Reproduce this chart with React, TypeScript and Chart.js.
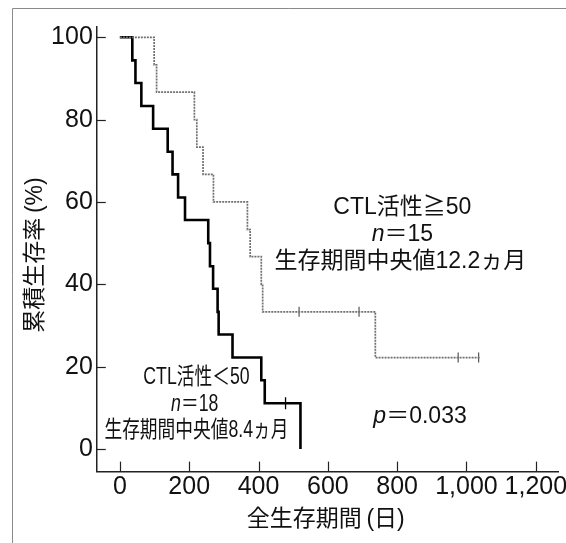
import React, { useEffect, useRef } from "react";
import { Chart, registerables } from "chart.js";

Chart.register(...registerables);

// ---- data ----
const highDays = [0, 99, 106, 215, 222, 240, 270, 368, 376, 408, 412, 737, 1040];
const highSurv = [100, 93.3, 86.7, 80, 73.3, 66.7, 60, 53.3, 46.7, 40, 33.3, 22.2, 22.2];
const highCensorDays = [517, 690, 976, 1035];
const highCensorSurv = [33.3, 33.3, 22.2, 22.2];

const lowDays = [0, 36, 45, 62, 96, 138, 152, 168, 188, 255, 260, 269, 282, 285, 325, 408, 418, 521];
const lowSurv = [100, 94.4, 88.9, 83.3, 77.8, 72.2, 66.7, 61.1, 55.6, 50, 44.4, 38.9, 33.3, 27.8, 22.2, 16.7, 11.1, 0];
const lowCensorDays = [478];
const lowCensorSurv = [11.1];

const xTicks = [0, 200, 400, 600, 800, 1000, 1200];
const xTickLabels = ["0", "200", "400", "600", "800", "1,000", "1,200"];
const yTicks = [0, 20, 40, 60, 80, 100];
const yTickLabels = ["0", "20", "40", "60", "80", "100"];

const xTitle = "全生存期間\u2009(日)";
const yTitle = "累積生存率\u2009(%)";

const FONT = '"Liberation Sans", Arial, "Noto Sans CJK JP", sans-serif';

type Part = { t: string; italic?: boolean };
type Note = { x: number; y: number; parts: Part[]; sx?: number };

const notes: Note[] = [
  { x: 815, y: 58.6, parts: [{ t: "CTL活性≧50" }] },
  { x: 815, y: 52.1, parts: [{ t: "n", italic: true }, { t: "＝15" }] },
  { x: 809, y: 45.4, parts: [{ t: "生存期間中央値12.2ヵ月" }] },
  { x: 221, y: 17.3, parts: [{ t: "CTL活性＜50" }], sx: 0.77 },
  { x: 216, y: 10.8, parts: [{ t: "n", italic: true }, { t: "＝18" }], sx: 0.77 },
  { x: 221, y: 4.4, parts: [{ t: "生存期間中央値8.4ヵ月" }], sx: 0.77 },
  { x: 866, y: 7.9, parts: [{ t: "p", italic: true }, { t: "＝0.033" }] },
];

const toPts = (xs: number[], ys: number[]) => xs.map((x, i) => ({ x, y: ys[i] }));

const decorPlugin = {
  id: "decor",
  beforeDraw(chart: any) {
    const ctx = chart.ctx;
    ctx.save();
    ctx.fillStyle = "#ffffff";
    ctx.fillRect(0, 0, chart.width, chart.height);
    ctx.strokeStyle = "#8a8a8a";
    ctx.lineWidth = 1;
    ctx.beginPath();
    ctx.moveTo(12.5, chart.height);
    ctx.lineTo(12.5, 8.5);
    ctx.lineTo(chart.width, 8.5);
    ctx.stroke();
    ctx.restore();
  },
  afterDraw(chart: any) {
    const ctx = chart.ctx;
    const xs = chart.scales.x;
    const ys = chart.scales.y;
    const area = chart.chartArea;
    ctx.save();
    ctx.strokeStyle = "#222";
    ctx.lineWidth = 1.2;
    xTicks.forEach((v) => {
      const px = Math.round(xs.getPixelForValue(v)) + 0.5;
      ctx.beginPath();
      ctx.moveTo(px, area.bottom);
      ctx.lineTo(px, area.bottom - 10);
      ctx.stroke();
    });
    yTicks.forEach((v) => {
      const py = Math.round(ys.getPixelForValue(v)) + 0.5;
      ctx.beginPath();
      ctx.moveTo(area.left, py);
      ctx.lineTo(area.left + 9, py);
      ctx.stroke();
    });

    ctx.fillStyle = "#111";
    ctx.textBaseline = "middle";
    ctx.textAlign = "left";
    notes.forEach((n) => {
      const cx = xs.getPixelForValue(n.x);
      const cy = ys.getPixelForValue(n.y);
      const sx = n.sx ?? 1;
      let total = 0;
      const widths = n.parts.map((p) => {
        ctx.font = `${p.italic ? "italic " : ""}23px ${FONT}`;
        const w = ctx.measureText(p.t).width;
        total += w;
        return w;
      });
      ctx.save();
      ctx.translate(cx, cy);
      ctx.scale(sx, 1);
      let x0 = -total / 2;
      n.parts.forEach((p, i) => {
        ctx.font = `${p.italic ? "italic " : ""}23px ${FONT}`;
        ctx.fillText(p.t, x0, 0);
        x0 += widths[i];
      });
      ctx.restore();
    });

    // axis titles
    ctx.font = `23px ${FONT}`;
    ctx.textAlign = "center";
    ctx.fillText(xTitle, (area.left + area.right) / 2 - 2, 520);
    ctx.save();
    ctx.translate(36, 255);
    ctx.rotate(-Math.PI / 2);
    ctx.fillText(yTitle, 0, 0);
    ctx.restore();
    ctx.restore();
  },
};

export default function App() {
  const ref = useRef<HTMLCanvasElement | null>(null);

  useEffect(() => {
    if (!ref.current) return;
    const chart = new Chart(ref.current, {
      type: "line",
      data: {
        datasets: [
          {
            label: "CTL活性≧50",
            data: toPts(highDays, highSurv),
            stepped: true,
            borderColor: "#707070",
            borderWidth: 1.7,
            borderDash: [2, 1],
            pointRadius: 0,
            fill: false,
          },
          {
            label: "CTL活性＜50",
            data: toPts(lowDays, lowSurv),
            stepped: true,
            borderColor: "#000000",
            borderWidth: 2.6,
            pointRadius: 0,
            fill: false,
          },
          {
            label: "censor high",
            data: toPts(highCensorDays, highCensorSurv),
            showLine: false,
            pointStyle: "line",
            rotation: 90,
            pointRadius: 5,
            pointBorderColor: "#555",
            pointBorderWidth: 1.2,
            borderColor: "#555",
          },
          {
            label: "censor low",
            data: toPts(lowCensorDays, lowCensorSurv),
            showLine: false,
            pointStyle: "line",
            rotation: 90,
            pointRadius: 6,
            pointBorderColor: "#000",
            pointBorderWidth: 1.3,
            borderColor: "#000",
          },
        ],
      },
      options: {
        responsive: false,
        animation: false,
        devicePixelRatio: 1,
        layout: { padding: { left: 0, right: 6.4, top: 27, bottom: 0 } },
        plugins: {
          legend: { display: false },
          tooltip: { enabled: false },
          title: { display: false },
        },
        scales: {
          x: {
            type: "linear",
            min: -66.5,
            max: 1266,
            grid: { display: false, drawTicks: false },
            border: { display: true, color: "#222", width: 1.5 },
            afterBuildTicks: (s: any) => {
              s.ticks = xTicks.map((v) => ({ value: v }));
            },
            afterFit: (s: any) => {
              s.height = 71.4;
              s.paddingLeft = 0;
              s.paddingRight = 0;
            },
            ticks: {
              autoSkip: false,
              maxRotation: 0,
              padding: 1,
              color: "#111",
              font: { family: FONT, size: 25 },
              callback: (v: any) => {
                const i = xTicks.indexOf(Number(v));
                return i >= 0 ? xTickLabels[i] : "";
              },
            },
          },
          y: {
            type: "linear",
            min: -5.5,
            max: 102.5,
            grid: { display: false, drawTicks: false },
            border: { display: true, color: "#222", width: 1.5 },
            afterBuildTicks: (s: any) => {
              s.ticks = yTicks.map((v) => ({ value: v }));
            },
            afterFit: (s: any) => {
              s.width = 96.8;
              s.paddingTop = 0;
              s.paddingBottom = 0;
            },
            ticks: {
              autoSkip: false,
              padding: 4,
              color: "#111",
              font: { family: FONT, size: 25 },
              callback: (v: any) => {
                const i = yTicks.indexOf(Number(v));
                return i >= 0 ? yTickLabels[i] : "";
              },
            },
          },
        },
      },
      plugins: [decorPlugin],
    });
    return () => chart.destroy();
  }, []);

  return (
    <div style={{ position: "fixed", left: 0, top: 0, width: 566, height: 543, background: "#fff" }}>
      <canvas ref={ref} width={566} height={543} style={{ display: "block" }} />
    </div>
  );
}
